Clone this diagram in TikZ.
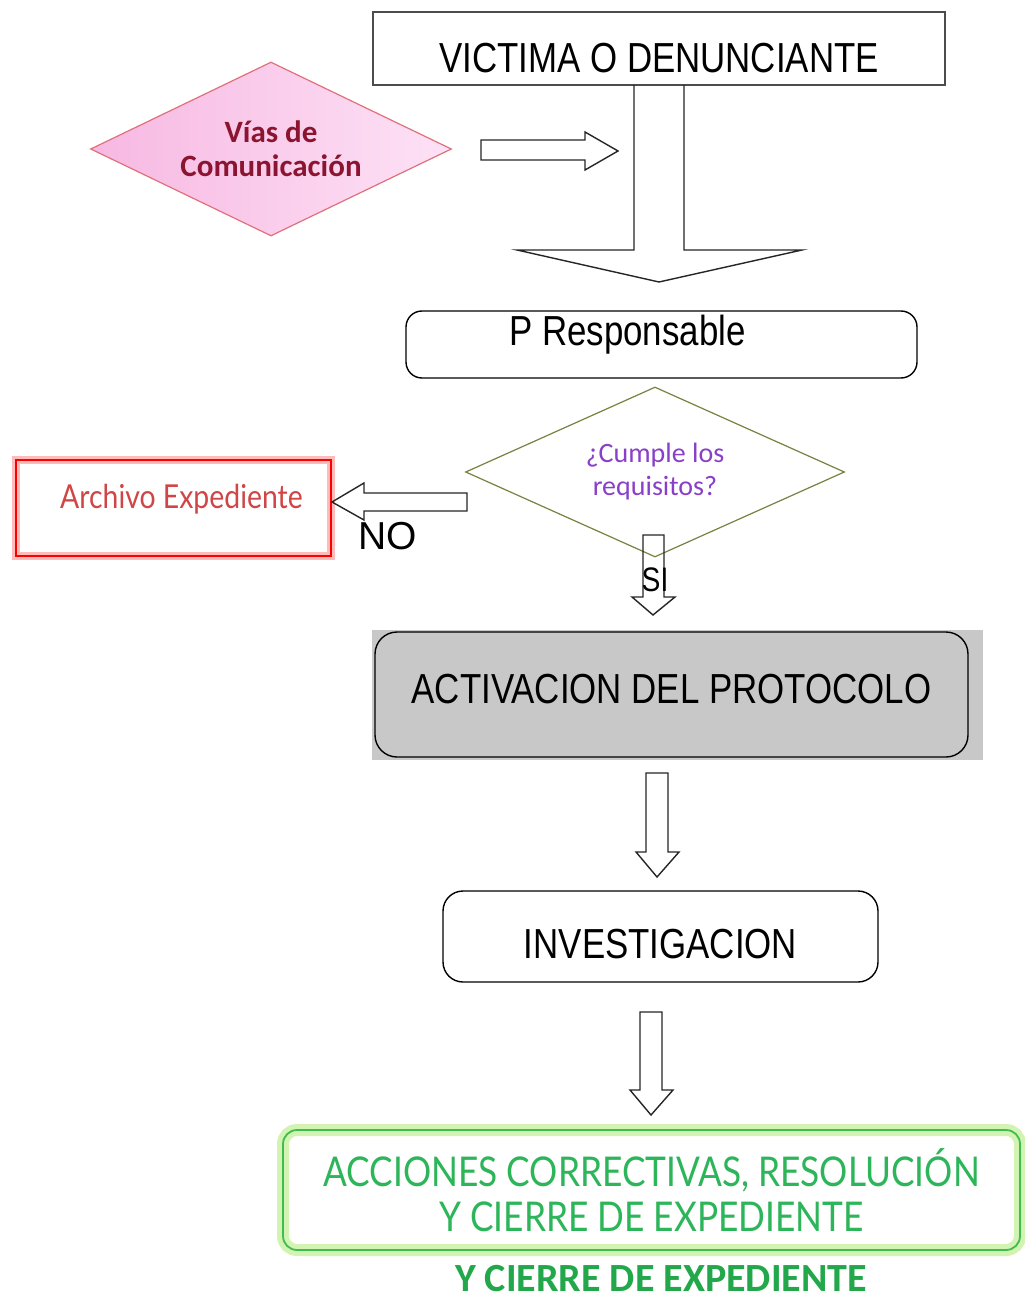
\documentclass[tikz,border=0pt]{standalone}
\usepackage{fontspec}
\setmainfont{Liberation Sans}
\newfontfamily\tahoma[FakeStretch=0.83]{Liberation Sans}
\newfontfamily\calibri{Carlito}
\newfontfamily\futura[FakeStretch=0.86]{Lato}
\usetikzlibrary{shapes.geometric}

\definecolor{pinkA}{HTML}{F7B8E2}
\definecolor{pinkB}{HTML}{FDE2F6}
\definecolor{pinkline}{HTML}{E0707A}
\definecolor{wine}{HTML}{8B1530}
\definecolor{olive}{HTML}{77823F}
\definecolor{lila}{HTML}{8A3FC8}
\definecolor{archred}{HTML}{D04545}
\definecolor{greenline}{HTML}{3DBE4E}
\definecolor{greenglow}{HTML}{C8F0A0}
\definecolor{greentext}{HTML}{2DB55A}
\definecolor{greenbold}{HTML}{22A84A}
\definecolor{panel}{HTML}{C8C8C8}

\begin{document}
\begin{tikzpicture}[x=0.5pt,y=-0.5pt,
    plainbox/.style={draw=black!70, line width=0.8pt, inner sep=0pt},
    roundbox/.style={draw=black, line width=0.7pt, rounded corners=8pt, inner sep=0pt},
    blockarrow/.style={draw=black!85, line width=0.7pt, line join=miter}]
  \useasboundingbox[fill=white] (0,0) rectangle (1024,1304);

  % top of the flow
  \node[plainbox, minimum width=286pt, minimum height=36.5pt, text height=24pt,
        font=\tahoma\fontsize{21}{24}\selectfont] (victima) at (659,48.5) {VICTIMA O DENUNCIANTE};
  \node[diamond, shape aspect=2.07, draw=pinkline, line width=0.6pt, left color=pinkA, right color=pinkB,
        minimum width=180.5pt, minimum height=87pt, inner sep=1pt, align=center,
        text=wine, font=\calibri\bfseries\fontsize{15.5}{17}\selectfont] (vias) at (271,149) {Vías de\\Comunicación};
  \draw[blockarrow] (634,85) -- (634,250) -- (517,250) -- (659,282) -- (802,250) -- (684,250) -- (684,85);
  \draw[blockarrow] (481,140) -- (585,140) -- (585,132) -- (618,151) -- (585,170) -- (585,160) -- (481,160) -- cycle;

  \node[roundbox, minimum width=255.5pt, minimum height=33.5pt, text depth=14pt,
        font=\tahoma\fontsize{21}{24}\selectfont] (responsable) at (661.5,344.5) {P Responsable\hspace*{34pt}};

  % decision
  \node[diamond, shape aspect=2.23, draw=olive, line width=0.6pt, minimum width=189.5pt, minimum height=85pt,
        inner sep=1pt, align=center, text=lila,
        font=\calibri\fontsize{14}{16.5}\selectfont] (cumple) at (655,472) {¿Cumple los\\requisitos?};
  \node[draw=red, line width=0.8pt, preaction={draw=red!45, line width=4pt, opacity=0.6},
        minimum width=157.5pt, minimum height=48pt, inner sep=0pt, text depth=12pt,
        text=archred, font=\futura\fontsize{16.5}{18}\selectfont] (archivo) at (173.5,508) {\hspace*{8pt}Archivo Expediente};
  \draw[blockarrow] (467,493) -- (364,493) -- (364,483) -- (332,502) -- (364,520) -- (364,511) -- (467,511) -- cycle;
  \node[font=\fontsize{19.5}{22}\selectfont] (no) at (388,536) {NO};
  \draw[blockarrow] (643,535) -- (664,535) -- (664,597) -- (675,597) -- (653,615) -- (632,597) -- (643,597) -- cycle;
  \node[font=\tahoma\fontsize{17}{20}\selectfont] (si) at (655,580) {SI};

  % protocol
  \fill[panel] (372,630) rectangle (983,760);
  \node[roundbox, fill=panel, rounded corners=11pt, minimum width=296.5pt, minimum height=62.5pt,
        text depth=6pt, font=\tahoma\fontsize{21}{24}\selectfont] (activacion) at (671.5,694.5) {ACTIVACION\ DEL\ PROTOCOLO};
  \draw[blockarrow] (646,773) -- (668,773) -- (668,852) -- (679,852) -- (657,877) -- (636,852) -- (646,852) -- cycle;
  \node[roundbox, rounded corners=10pt, minimum width=217.5pt, minimum height=45.5pt,
        text height=22pt, font=\tahoma\fontsize{21}{24}\selectfont] (investigacion) at (660.5,936.5) {INVESTIGACION};
  \draw[blockarrow] (640,1012) -- (662,1012) -- (662,1090) -- (673,1090) -- (651,1115) -- (630,1090) -- (640,1090) -- cycle;

  % closing
  \node[draw=greenline, line width=0.9pt, rounded corners=7pt,
        preaction={draw=greenglow, line width=6pt, rounded corners=7pt, opacity=0.8},
        minimum width=368.5pt, minimum height=60pt, inner sep=0pt, align=center,
        text=greentext, font=\futura\fontsize{20.5}{22.5}\selectfont] (acciones) at (651.5,1190)
        {ACCIONES CORRECTIVAS, RESOLUCIÓN\\Y CIERRE DE EXPEDIENTE};
  \node[inner sep=0pt, text=greenbold, font=\calibri\bfseries\fontsize{20}{24}\selectfont] (cierre) at (661,1279) {Y CIERRE DE EXPEDIENTE};
\end{tikzpicture}
\end{document}
